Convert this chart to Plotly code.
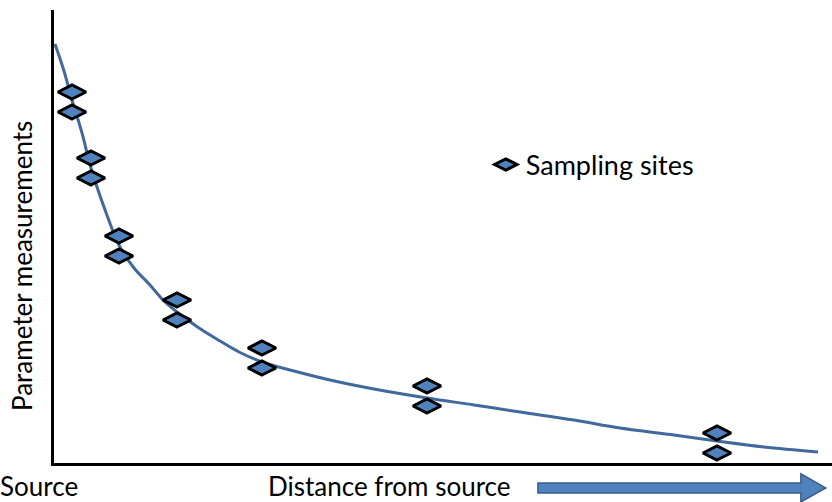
import plotly.graph_objects as go

site_x = [18, 18, 37, 37, 65, 65, 123, 123, 208, 208, 373, 373, 663, 663]
site_y = [371, 351, 305, 285, 227, 207, 163, 143, 115, 95, 77, 57, 30, 10]

# fitted decay curve
curve_x = [1, 10, 18, 28, 37, 50, 65, 80, 96, 110, 123, 145, 166, 185, 208, 240, 276, 320, 373, 420, 466, 520, 566, 620, 663, 710, 764]
curve_y = [419, 392, 363, 330, 295, 256, 218, 195, 178, 162, 151, 135, 122, 111, 101, 92, 83, 74, 65, 58, 51, 43, 35, 28, 22, 16, 11]

fig = go.Figure()
fig.add_trace(go.Scatter(x=curve_x, y=curve_y, mode="lines", line=dict(color="#41699b", width=3, shape="spline"),
                         showlegend=False, hoverinfo="skip"))
fig.add_trace(go.Scatter(x=site_x, y=site_y, mode="markers", name="Sampling sites",
                         marker=dict(symbol="diamond-wide", size=20, color="#4f81bd",
                                     line=dict(color="black", width=3))))

fig.update_xaxes(range=[0, 778], showgrid=False, zeroline=False, showticklabels=False, automargin=False,
                 showline=True, linecolor="black", linewidth=2.5)
fig.update_yaxes(range=[0, 453], showgrid=False, zeroline=False, showticklabels=False, automargin=False,
                 showline=True, linecolor="black", linewidth=2.5)

# arrow next to the x label
fig.add_shape(type="path", xref="paper", yref="paper",
              path="M 0.622 -0.044 L 0.96 -0.044 L 0.96 -0.024 L 0.992 -0.055 L 0.96 -0.086 L 0.96 -0.066 L 0.622 -0.066 Z",
              fillcolor="#4f81bd", line=dict(color="#385d8a", width=1.5))

# y title placed by hand (sits lower than the plot centre in the original)
fig.add_annotation(text="Parameter measurements", xref="paper", yref="paper", x=-0.041, y=0.435, textangle=-90,
                   xanchor="center", yanchor="middle", showarrow=False, borderpad=0,
                   font=dict(size=26, color="black"))
fig.add_annotation(text="Source", xref="paper", yref="paper", x=-0.071, y=-0.05, xanchor="left", yanchor="middle",
                   showarrow=False, borderpad=0, font=dict(size=26, color="black"))
fig.add_annotation(text="Distance from source", xref="paper", yref="paper", x=0.274, y=-0.05, xanchor="left",
                   yanchor="middle", showarrow=False, borderpad=0, font=dict(size=26, color="black"))

fig.update_layout(
    width=832, height=502,
    margin=dict(l=54, r=0, t=10, b=39),
    plot_bgcolor="white", paper_bgcolor="white",
    font=dict(family="Lato", color="black"),
    legend=dict(x=0.555, y=0.658, yanchor="middle", xanchor="left", font=dict(size=27), bgcolor="rgba(0,0,0,0)",
                itemwidth=30),
)

fig.write_html("out.html", config={"displayModeBar": False},
               post_script="document.body.style.margin='0';document.body.style.overflow='hidden';")
